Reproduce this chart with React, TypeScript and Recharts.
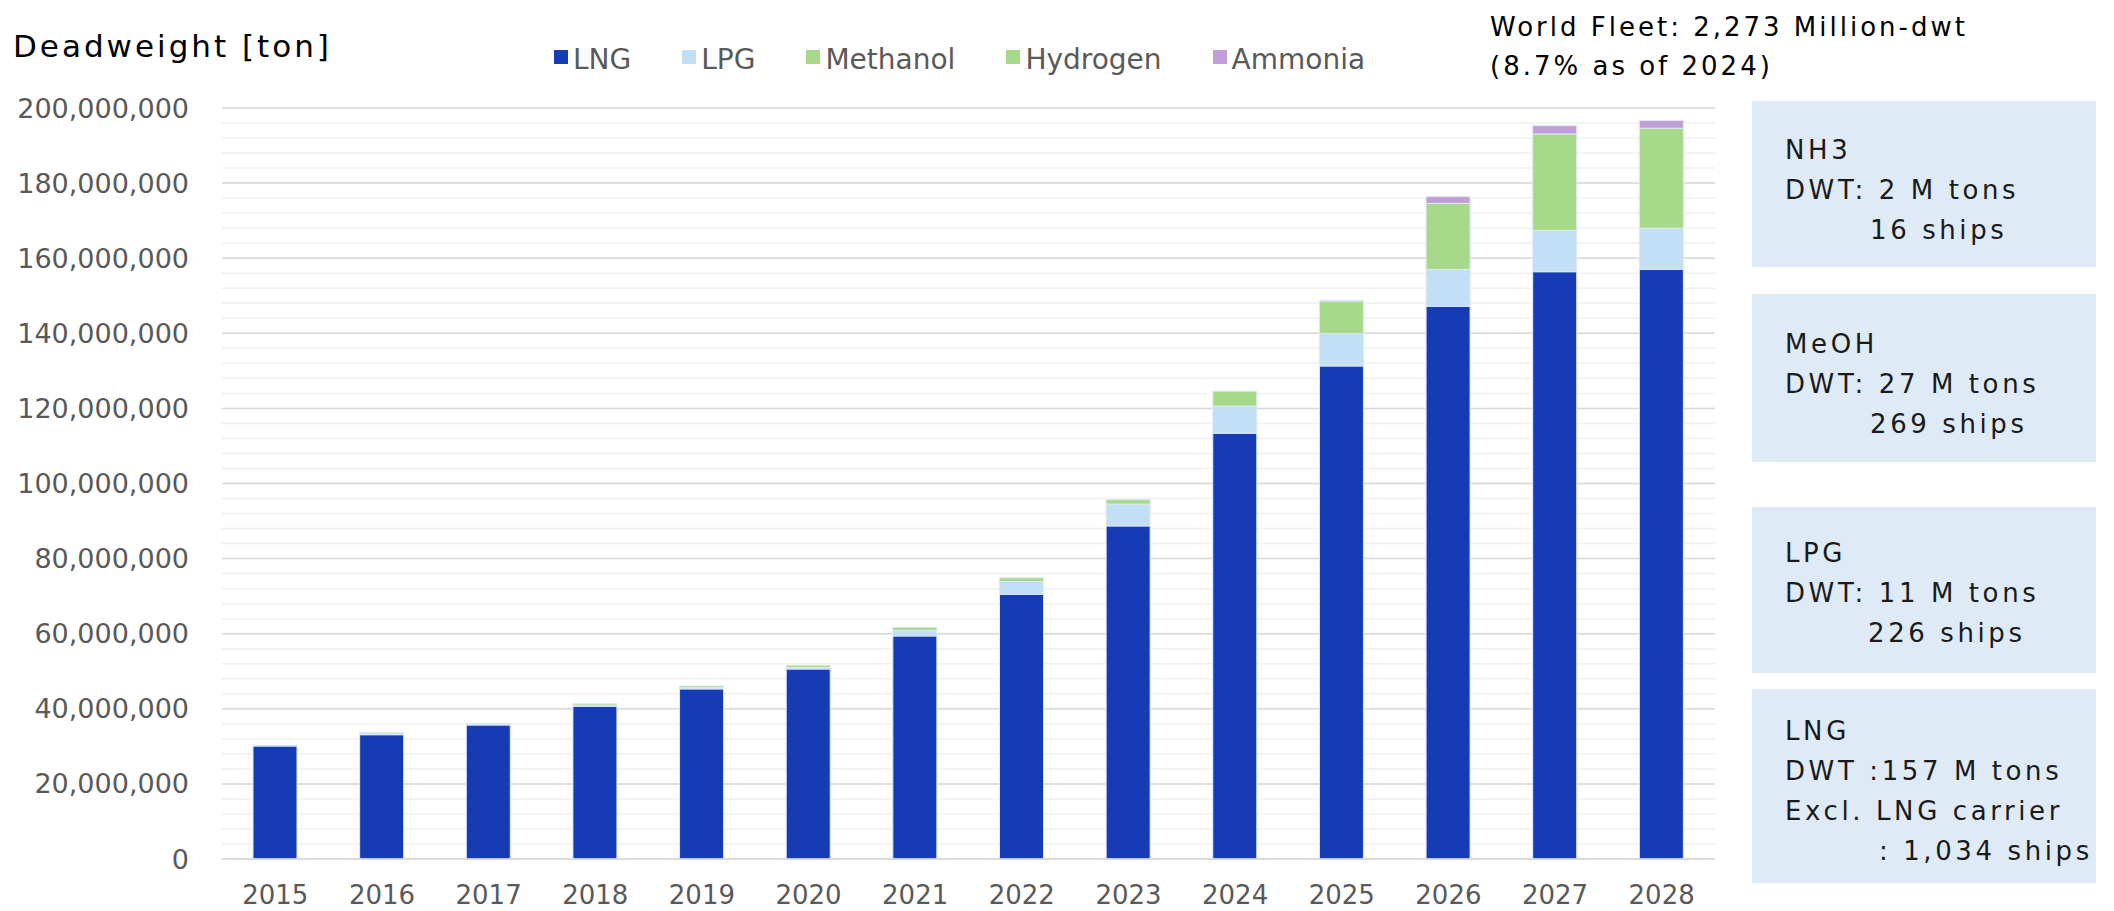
import React from "react";
import {BarChart, Bar, XAxis, YAxis, CartesianGrid} from "recharts";

const years = ["2015", "2016", "2017", "2018", "2019", "2020", "2021", "2022", "2023", "2024", "2025", "2026", "2027", "2028"];
const lng = [30.1, 33.1, 35.7, 40.7, 45.3, 50.6, 59.4, 70.5, 88.7, 113.4, 131.3, 147.2, 156.4, 157.0];
const lpg = [0.2, 0.2, 0.1, 0.3, 0.3, 0.4, 1.5, 3.4, 5.8, 7.2, 8.6, 9.8, 11.0, 11.0];
const methanol = [0, 0.3, 0.3, 0.4, 0.5, 0.6, 0.8, 1.0, 1.2, 4.0, 8.7, 17.6, 25.7, 26.6];
const hydrogen = [0, 0, 0, 0, 0, 0, 0, 0, 0, 0, 0, 0, 0, 0];
const ammonia = [0, 0, 0, 0, 0, 0, 0, 0, 0, 0, 0.2, 1.8, 2.2, 2.1];

const yTicks = [0, 20e6, 40e6, 60e6, 80e6, 100e6, 120e6, 140e6, 160e6, 180e6, 200e6];
const minorTicks: number[] = [];
for (let v = 0; v <= 200e6; v += 4e6) minorTicks.push(v);

const series = [
    {key: "LNG", color: "#153bb5"},
    {key: "LPG", color: "#c2dff5"},
    {key: "Methanol", color: "#a6da8a"},
    {key: "Hydrogen", color: "#a6da8a"},
    {key: "Ammonia", color: "#c19fd6"},
];

const data = years.map((year, i) => ({
    year,
    LNG: lng[i] * 1e6,
    LPG: lpg[i] * 1e6,
    Methanol: methanol[i] * 1e6,
    Hydrogen: hydrogen[i] * 1e6,
    Ammonia: ammonia[i] * 1e6,
}));

// info boxes on the right
const boxes = [
    {top: 93, height: 166, pad: 29, lines: [["NH3", 0], ["DWT: 2 M tons", 0], ["16 ships", 85]]},
    {top: 286, height: 168, pad: 30, lines: [["MeOH", 0], ["DWT: 27 M tons", 0], ["269 ships", 85]]},
    {top: 499, height: 166, pad: 26, lines: [["LPG", 0], ["DWT: 11 M tons", 0], ["226 ships", 83]]},
    {top: 681, height: 194, pad: 22, lines: [["LNG", 0], ["DWT :157 M tons", 0], ["Excl. LNG carrier", 0], [": 1,034 ships", 94]]},
];

const font = "'DejaVu Sans', Verdana, sans-serif";

const App: React.FC = () => {
    return (
        <div style={{position: "relative", width: 2098, height: 903, fontFamily: font}}>
            <div style={{position: "absolute", left: 5, top: 20, fontSize: 31, letterSpacing: 3, color: "#000"}}>
                Deadweight [ton]
            </div>
            <div style={{position: "absolute", left: 546, top: 35, display: "flex", gap: 51, fontSize: 28, color: "#595959"}}>
                {series.map((s) => (
                    <div key={s.key} style={{display: "flex", alignItems: "center"}}>
                        <span style={{width: 14, height: 14, background: s.color, marginRight: 5, marginTop: -6}} />
                        <span>{s.key}</span>
                    </div>
                ))}
            </div>
            <div style={{position: "absolute", left: 1482, top: 0, fontSize: 26, letterSpacing: 3, lineHeight: "39px", color: "#000"}}>
                <div>World Fleet: 2,273 Million-dwt</div>
                <div>(8.7% as of 2024)</div>
            </div>
            <div style={{position: "absolute", left: 0, top: 0}}>
                <BarChart
                    width={1712}
                    height={903}
                    data={data}
                    margin={{top: 100, right: 5, left: 0, bottom: 0}}
                    barSize={44}
                >
                    <CartesianGrid vertical={false} horizontalValues={minorTicks} stroke="#f0f0f0" strokeWidth={1.5} />
                    <CartesianGrid vertical={false} horizontalValues={yTicks} stroke="#d9d9d9" strokeWidth={1.5} />
                    <XAxis
                        dataKey="year"
                        axisLine={{stroke: "#d9d9d9", strokeWidth: 1.5}}
                        tickLine={false}
                        tickSize={0}
                        tickMargin={27}
                        height={52}
                        tick={{fontSize: 26, fill: "#595959", fontFamily: font}}
                    />
                    <YAxis
                        domain={[0, 200e6]}
                        ticks={yTicks}
                        width={214}
                        axisLine={false}
                        tickLine={false}
                        tickSize={0}
                        tickMargin={33}
                        interval={0}
                        tickFormatter={(v: number) => v.toLocaleString("en-US")}
                        tick={{fontSize: 27, fill: "#595959", fontFamily: font}}
                    />
                    {series.map((s) => (
                        <Bar
                            key={s.key}
                            dataKey={s.key}
                            stackId="a"
                            fill={s.color}
                            stroke="#dfe8f7"
                            strokeWidth={1}
                            isAnimationActive={false}
                        />
                    ))}
                </BarChart>
            </div>
            {boxes.map((b, i) => (
                <div
                    key={i}
                    style={{
                        position: "absolute",
                        left: 1744,
                        top: b.top,
                        width: 344,
                        height: b.height,
                        background: "#deebf7",
                        boxSizing: "border-box",
                        paddingLeft: 33,
                        paddingTop: b.pad,
                        fontSize: 26,
                        letterSpacing: 3.6,
                        lineHeight: "40px",
                        color: "#1a1a1a",
                    }}
                >
                    {b.lines.map(([t, indent], j) => (
                        <div key={j} style={{marginLeft: indent as number, whiteSpace: "pre"}}>{t}</div>
                    ))}
                </div>
            ))}
        </div>
    );
};

export default App;
